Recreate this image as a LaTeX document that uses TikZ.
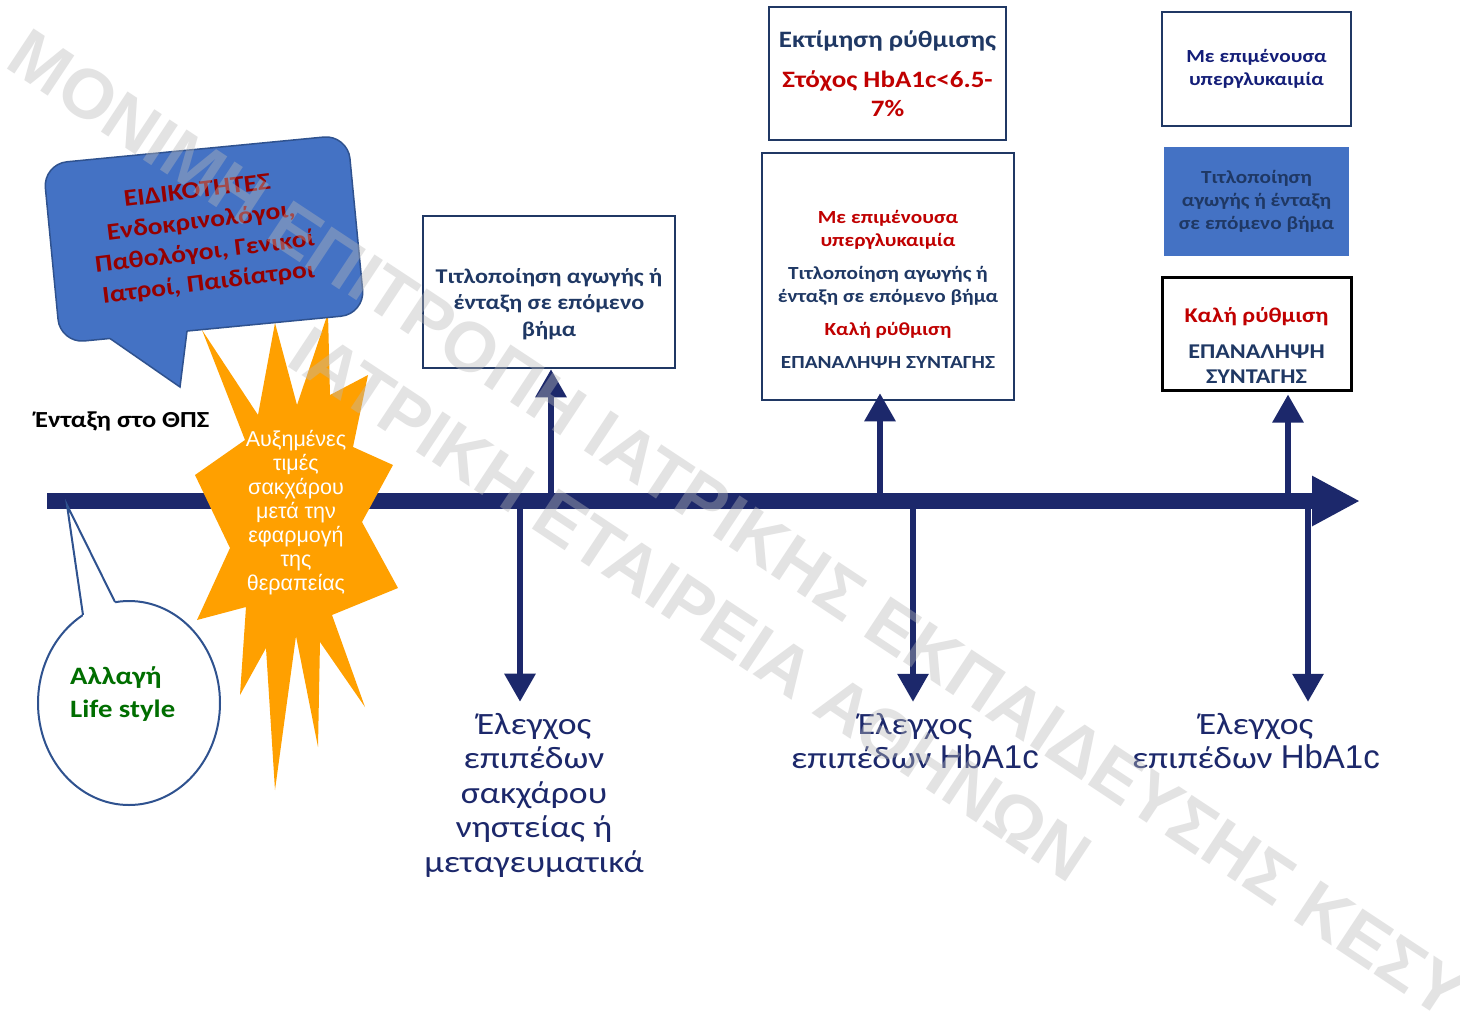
\documentclass[tikz,border=0pt]{standalone}
\usepackage{fontspec}
\setmainfont{Carlito}[FakeStretch=1.15]
\newfontfamily\arialfont{Liberation Sans}
\usepackage{xcolor}
\usetikzlibrary{positioning, arrows.meta, calc, shapes.geometric}
\definecolor{navy}{RGB}{28,40,107}
\definecolor{boxline}{RGB}{32,56,100}
\definecolor{boxtext}{RGB}{31,56,100}
\definecolor{alert}{RGB}{192,0,0}
\definecolor{bubblefill}{RGB}{68,114,196}
\definecolor{bubbleline}{RGB}{47,82,143}
\definecolor{bubbletext}{RGB}{150,0,0}
\definecolor{burst}{RGB}{255,160,0}
\definecolor{lifegreen}{RGB}{0,110,0}
\definecolor{deepblue}{RGB}{20,30,120}
\definecolor{mark}{RGB}{185,185,185}
\tikzset{
  timeline/.style={draw=navy, line width=16pt, -{Triangle[width=47pt, length=48pt]}},
  vline/.style={draw=navy, line width=6pt, -{Triangle[width=30pt, length=28pt]}},
  infobox/.style={draw=boxline, line width=2.5pt, fill=white, inner sep=0pt},
  boxlabel/.style={align=center, text=boxtext, inner sep=0pt},
  checklabel/.style={align=center, text=navy, inner sep=0pt,
    font=\fontsize{31}{34.5}\selectfont},
  bursttext/.style={align=center, text=white, inner sep=0pt,
    font=\arialfont\fontsize{21.5}{24}\selectfont},
  watermark/.style={text=mark, opacity=0.4, inner sep=0pt,
    font=\arialfont\bfseries\fontsize{70}{70}\selectfont, rotate=-33.5},
}
\newcommand{\hb}{{\arialfont\fontsize{33}{34.5}\selectfont HbA1c}}

\begin{document}
\begin{tikzpicture}[x=1pt, y=-1pt]
  \path[use as bounding box, fill=white] (0,0) rectangle (1460,1021);

  % time axis
  \coordinate (T0) at (47,501);
  \coordinate (T1) at (1360,501);
  \draw[timeline] (T0) -- (T1);

  % starburst
  \fill[burst] (202,330) -- (258,415) -- (275,323) -- (297,405) -- (328,313)
    -- (330,395) -- (368,375) -- (353,447) -- (393,465) -- (362,522)
    -- (398,588) -- (332,615) -- (365,707) -- (320,642) -- (318,747)
    -- (296,636) -- (275,790) -- (266,648) -- (240,695) -- (246,607)
    -- (197,620) -- (230,548) -- (195,475) -- (245,440) -- cycle;
  \node[bursttext] (burstText) at (296,513)
    {Αυξημένες\\τιμές\\σακχάρου\\μετά την\\εφαρμογή\\της\\θεραπείας};

  % speech bubble
  \node[fill=bubblefill, draw=bubbleline, line width=1.5pt, rounded corners=24pt,
    minimum width=306pt, minimum height=180pt, rotate=5.5] (spec) at (204,239) {};
  \coordinate (specTip) at (180,387);
  \fill[bubblefill] (110,338.5) -- (specTip) -- (187,331) -- (187,325) -- (110,333) -- cycle;
  \draw[bubbleline, line width=1.5pt] (110,338.5) -- (specTip) -- (187,331);
  \node[align=center, rotate=7, text=bubbletext, inner sep=0pt,
    font=\bfseries\fontsize{24}{31}\selectfont] (specText) at (203,238)
    {ΕΙΔΙΚΟΤΗΤΕΣ\\Ενδοκρινολόγοι,\\Παθολόγοι, Γενικοί\\Ιατροί, Παιδίατροι};

  % life style callout
  \node[ellipse, draw=bubbleline, line width=2pt, fill=white,
    minimum width=182pt, minimum height=204pt] (life) at (129,703) {};
  \coordinate (lifeTip) at (67,505);
  \fill[white] (83,615) -- (lifeTip) -- (115,602) -- (115,608) -- (83,620) -- cycle;
  \draw[bubbleline, line width=2pt] (83,615) -- (lifeTip) -- (115,602);
  \node[anchor=west, align=left, text=lifegreen, inner sep=0pt,
    font=\bfseries\fontsize{25}{33}\selectfont] (lifeText) at (70,694)
    {Αλλαγή\\Life style};

  \node[anchor=west, inner sep=0pt, font=\bfseries\fontsize{23}{25}\selectfont]
    (entry) at (35,421) {Ένταξη στο ΘΠΣ};

  % boxes above the axis
  \node[infobox, minimum width=252pt, minimum height=152pt] (box1) at (549,292) {};
  \node[boxlabel, font=\bfseries\fontsize{21}{26.5}\selectfont] (box1t) at (549,304)
    {Τιτλοποίηση αγωγής ή\\ένταξη σε επόμενο\\βήμα};

  \node[infobox, minimum width=237pt, minimum height=133pt] (box2) at (887.5,73.5) {};
  \node[boxlabel, font=\bfseries\fontsize{23.5}{29}\selectfont] (box2t) at (887.5,73.5)
    {Εκτίμηση ρύθμισης\\[11pt]\textcolor{alert}{Στόχος HbA1c<6.5-}\\\textcolor{alert}{7\%}};

  \node[infobox, minimum width=252pt, minimum height=247pt] (box3) at (888,276.5) {};
  \node[boxlabel, font=\bfseries\fontsize{18.5}{23}\selectfont] (box3t) at (888,289.5)
    {\textcolor{alert}{Με επιμένουσα}\\\textcolor{alert}{υπεργλυκαιμία}\\[10pt]
     Τιτλοποίηση αγωγής ή\\ένταξη σε επόμενο βήμα\\[10pt]
     \textcolor{alert}{Καλή ρύθμιση}\\[10pt]ΕΠΑΝΑΛΗΨΗ ΣΥΝΤΑΓΗΣ};

  \node[infobox, minimum width=189pt, minimum height=114pt] (box4) at (1256.5,69) {};
  \node[boxlabel, text=deepblue, font=\bfseries\fontsize{18.5}{23}\selectfont] (box4t)
    at (1256.5,69) {Με επιμένουσα\\υπεργλυκαιμία};

  \node[fill=bubblefill, minimum width=185pt, minimum height=109pt] (box5) at (1256.5,201.5) {};
  \node[boxlabel, font=\bfseries\fontsize{18.5}{23}\selectfont] (box5t) at (1256.5,201.5)
    {Τιτλοποίηση\\αγωγής ή ένταξη\\σε επόμενο βήμα};

  \node[infobox, draw=black, line width=3pt, minimum width=189pt, minimum height=113pt]
    (box6) at (1256.5,333.5) {};
  \node[boxlabel, font=\bfseries\fontsize{21}{25}\selectfont] (box6t) at (1256.5,345.5)
    {\textcolor{alert}{Καλή ρύθμιση}\\[11pt]ΕΠΑΝΑΛΗΨΗ\\ΣΥΝΤΑΓΗΣ};

  % up arrows
  \coordinate (U1) at (551,494);
  \coordinate (U2) at (880,494);
  \coordinate (U3) at (1288,494);
  \draw[vline] (U1) -- (U1 |- box1.south);
  \draw[vline, shorten >=-8pt] (U2) -- (U2 |- box3.south);
  \draw[vline, shorten >=3pt] (U3) -- (U3 |- box6.south);

  % down arrows and checks
  \node[checklabel] (check1) at (534,795)
    {Έλεγχος\\επιπέδων\\σακχάρου\\νηστείας ή\\μεταγευματικά};
  \node[checklabel] (check2) at (915,741) {Έλεγχος\\επιπέδων \hb};
  \node[checklabel] (check3) at (1256,741) {Έλεγχος\\επιπέδων \hb};
  \coordinate (D1) at (520,508);
  \coordinate (D2) at (913,508);
  \coordinate (D3) at (1308,508);
  \draw[vline, shorten >=11pt] (D1) -- (D1 |- check1.north);
  \draw[vline, shorten >=11pt] (D2) -- (D2 |- check2.north);
  \draw[vline, shorten >=11pt] (D3) -- (D3 |- check3.north);

  % watermark
  \node[watermark] (wm1) at (738,524) {ΜΟΝΙΜΗ ΕΠΙΤΡΟΠΗ ΙΑΤΡΙΚΗΣ ΕΚΠΑΙΔΕΥΣΗΣ ΚΕΣΥ};
  \node[watermark] (wm2) at (690,604) {ΙΑΤΡΙΚΗ ΕΤΑΙΡΕΙΑ ΑΘΗΝΩΝ};
\end{tikzpicture}
\end{document}
